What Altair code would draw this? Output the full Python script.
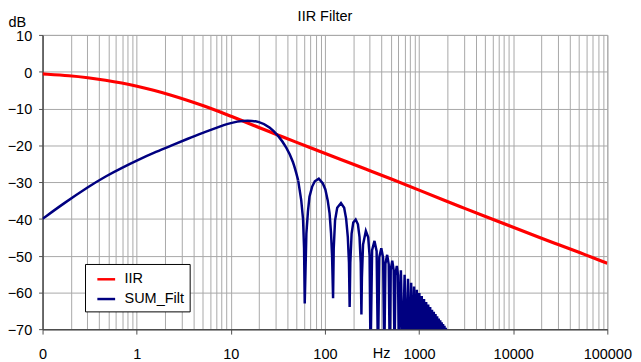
import altair as alt
import pandas as pd

# ---- IIR series (Hz, dB) ----
iir_hz = [0.1, 0.2, 0.3, 0.47, 0.7, 1, 1.5, 2.34, 3.5, 5.2, 7.8, 10, 11.7, 20, 30, 50, 70,
          100, 200, 300, 500, 1000, 2000, 3000, 5000, 10000, 20000, 30000, 50000, 100000]
iir_db = [-0.6, -1.1, -1.6, -2.3, -3.05, -3.9, -5.0, -6.4, -7.8, -9.3, -11.0, -12.1, -12.8, -15.2,
          -17.0, -19.2, -20.7, -22.2, -25.2, -26.9, -29.1, -32.2, -35.3, -37.1, -39.3, -42.3,
          -45.3, -47.0, -49.1, -52.1]

# ---- SUM_Filt series, main lobe ----
main_hz = [0.1, 0.17, 0.31, 0.47, 0.7, 1.03, 1.5, 2.34, 3.5, 5.2, 7.8, 9.2, 11.7, 15, 20, 26, 32,
           39, 46, 52, 56, 58.5, 60, 61]
main_db = [-40, -35.7, -31.2, -28.4, -26.1, -24.0, -22.1, -20.1, -18.2, -16.5, -14.8, -14.2, -13.5,
           -13.25, -13.5, -15.0, -17.4, -20.5, -24.3, -29.6, -35, -40, -48, -63]

# side lobes 1-4
lobe1_hz = [63.5, 66, 68.5, 73, 78, 86, 95, 101, 107, 112, 116, 119, 122]
lobe1_db = [-44, -38, -34, -31.3, -29.8, -29.1, -30.4, -32, -35, -38.5, -43.8, -50, -61.6]
lobe2_hz = [124, 128, 135, 148, 160, 168, 175, 180, 183]
lobe2_db = [-48, -40.5, -37, -35.7, -37, -40, -45, -52, -64]
lobe3_hz = [186, 192, 200, 212, 224, 233, 240, 244]
lobe3_db = [-52, -44, -41, -40.2, -41.5, -45, -52, -66]
lobe4_hz = [247, 254, 272, 288, 298, 305]
lobe4_db = [-56, -47, -43.3, -45, -50, -78]

# remaining lobes (peaks and notches)
tail_hz = [317, 336, 354, 366, 378, 397, 415, 427, 439, 458, 476, 488, 500, 519, 537, 549,
           561, 580, 598, 610, 641, 671, 702, 732, 763, 793, 824, 854, 885, 915, 946, 976,
           1007, 1037, 1068, 1098, 1129, 1159, 1190, 1220, 1251, 1281, 1312, 1342, 1373, 1403,
           1434, 1464, 1495, 1525, 1556, 1586, 1617, 1647, 1678, 1708, 1739, 1769, 1800, 1830,
           1861, 1891, 1922, 1952, 1983, 2013]
tail_db = [-48.5, -46.0, -48.8, -78, -50.4, -48.0, -50.6, -78, -52.2, -49.8, -52.4, -78,
           -53.8, -51.4, -54.0, -78, -55.2, -52.8, -55.4, -78,
           -54.0, -78, -55.2, -78, -56.3, -78, -57.4, -78, -58.4, -78, -59.3, -78,
           -60.2, -78, -61.0, -78, -61.8, -78, -62.6, -78, -63.3, -78, -64.0, -78,
           -64.7, -78, -65.3, -78, -65.9, -78, -66.5, -78, -67.1, -78, -67.6, -78,
           -68.1, -78, -68.6, -78, -69.1, -78, -69.6, -78, -70.1, -78]

series_names = ["IIR", "SUM_Filt"]
series_colors = ["#ff0000", "#000080"]
y_ticks = [-70, -60, -50, -40, -30, -20, -10, 0, 10]
x_ticks = [m * 10.0 ** e for e in range(-1, 5) for m in range(1, 10)] + [100000]

sum_hz = main_hz + lobe1_hz + lobe2_hz + lobe3_hz + lobe4_hz + tail_hz
sum_db = main_db + lobe1_db + lobe2_db + lobe3_db + lobe4_db + tail_db
assert len(sum_hz) == len(sum_db)

df_iir = pd.DataFrame({"hz": iir_hz, "db": iir_db, "series": "IIR"})
df_sum = pd.DataFrame({"hz": sum_hz, "db": sum_db, "series": "SUM_Filt"})
df_sum_smooth = df_sum[df_sum["hz"] <= 52]
df_sum_lobes = df_sum[df_sum["hz"] >= 52]

FONT = "Liberation Sans"
FS = 14.67
decade = "abs(log(datum.value)/LN10 - round(log(datum.value)/LN10)) < 0.001"

x_axis = alt.Axis(
    values=x_ticks,
    labelExpr=f"({decade}) ? (datum.value < 1 ? '0' : format(datum.value, 'd')) : ''",
    labelOverlap=False, labelFlush=False, labelBound=False,
    labelFontSize=FS, labelFont=FONT, labelColor="black", labelPadding=13,
    tickSize=5, tickColor="#4d4d4d",
    tickOpacity={"condition": {"test": decade, "value": 1}, "value": 0},
    grid=True, gridColor="#a8a8a8", gridWidth=1,
    domainColor="#4d4d4d", domainWidth=1.5,
    title="Hz", titleFont=FONT, titleFontSize=FS, titleFontWeight="normal", titleColor="black",
    titleX=343, titleY=29, titleAlign="center", titleBaseline="alphabetic",
)
y_axis = alt.Axis(
    values=y_ticks, labelFontSize=FS, labelFont=FONT, labelColor="black", labelPadding=7,
    labelOffset=1.5,
    tickSize=4, tickColor="#4d4d4d",
    grid=True, gridColor="#a8a8a8", gridWidth=1,
    domainColor="#4d4d4d", domainWidth=1.5,
    title="dB", titleFont=FONT, titleFontSize=FS, titleFontWeight="normal", titleColor="black",
    titleAngle=0, titleX=-35, titleY=-9, titleAlign="left", titleBaseline="alphabetic",
)

x_enc = alt.X("hz:Q", scale=alt.Scale(type="log", domain=[0.1, 100000], nice=False), axis=x_axis)
y_enc = alt.Y("db:Q", scale=alt.Scale(domain=[-70, 10], nice=False, zero=False), axis=y_axis)
color_enc = alt.Color(
    "series:N",
    scale=alt.Scale(domain=series_names, range=series_colors),
    legend=alt.Legend(
        title=None, orient="none", legendX=43, legendY=232,
        strokeColor="black", fillColor="white", padding=5, symbolOffset=6,
        symbolType="stroke", symbolSize=324, symbolStrokeWidth=2.5,
        labelFont=FONT, labelFontSize=FS, labelColor="black", labelOffset=8, rowPadding=2,
    ),
)

red = alt.Chart(df_iir).mark_line(strokeWidth=3.2, interpolate="basis", clip=True).encode(
    x=x_enc, y=y_enc, color=color_enc)
blue_a = alt.Chart(df_sum_smooth).mark_line(strokeWidth=2.5, interpolate="basis", clip=True).encode(
    x=x_enc, y=y_enc, color=color_enc)
blue_b = alt.Chart(df_sum_lobes).mark_line(strokeWidth=2.5, clip=True).encode(
    x=x_enc, y=y_enc, color=color_enc)

chart = alt.layer(red, blue_a, blue_b).properties(
    width=572, height=298,
    autosize=alt.AutoSizeParams(type="none"),
    padding={"left": 35, "top": 25, "right": 26, "bottom": 31},
    title=alt.TitleParams("IIR Filter", font=FONT, fontSize=FS, fontWeight="normal", color="black",
                          anchor="middle", baseline="alphabetic", offset=-22),
    background="white",
).configure_view(stroke="#a8a8a8")

chart.save("out.html", embed_options={"renderer": "svg", "actions": False})
